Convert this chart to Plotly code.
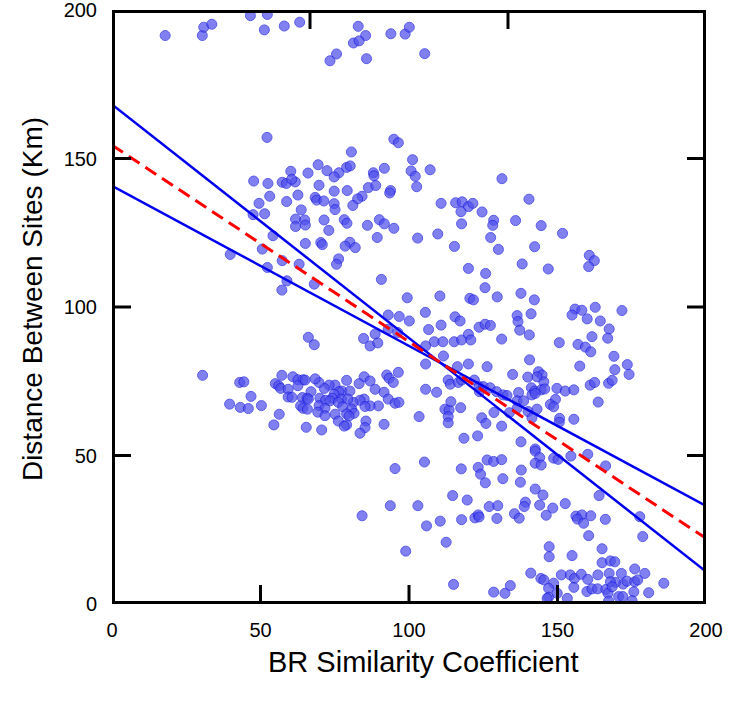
import plotly.graph_objects as go

# (BR similarity coefficient, distance between sites in km), grouped by region of the chart
pts_top = [(17.9,191.4),(30.4,191.4),(30.9,194.2),(33.6,195.2),(46.6,198.1),(52.3,198.5),(51.3,193.3),(58,194.6),(63.2,195.9),(52.2,157.1),
    (82.9,194.5),(85.4,191.4),(81.3,188.9),(83.2,189.6),(75.6,185.2),(73.4,182.9),(85.7,183.6),(93.9,192),(98.7,191.9),(100.1,194.2),(105.3,185.3),(94.9,156.5),(96.4,155.3),(80.6,152.2)]
pts_upper_left = [(47.7,142.4),(52.5,141.6),(57.3,142),(58.7,141.6),(61.7,142.1),(60.2,145.7),(60.5,143),(66,145.1),(53.1,137.3),(49.5,134.9),(58.8,135.5),(62.6,137.7),(51.4,131.4),(47.5,131.1),(63.7,132.7),(61.8,129.6),(64.9,129.3),(61.8,127.1),(65.1,127.6),(54.2,124),(50.6,119.5),(65.1,121.4),(57.3,115.6),(63,114.4),(39.8,117.7),(52.3,113.3),(58.9,108.8),(57.2,105.7)]
pts_upper_mid = [(69.4,147.9),(72.4,145.9),(76.4,145.2),(74.8,143.8),(79,147),(80.2,147.5),(88,145.2),(88.2,144.2),(91.7,146.7),(101.2,149.6),(100.7,145.8),(102.1,144),(107.1,146.2),(102.6,140.5),(131.3,143.2),(69.7,141),(74.8,139),(79.2,139.2),(86.3,140.2),(88.8,140.9),(93.8,139.2),(93.5,138.4),(68.4,136.9),(68.9,136),(71.3,135.7),(84.2,137.3),(82.7,136.4),(81.1,134.2),(74.8,134.8),(75.1,132.8),(71.4,129.3),(78.2,129.4),(79.1,128.2),(73,125.8),(86,127.5),(90,129.4),(91.7,128),(94.9,126.5),(89.3,123.4),(102.9,123.2),(109.7,124.6),(115.3,120.4),(110.8,134.9),(115.7,135.1),(117.9,135.4),(120,133.8),(121.5,134.9),(117.5,132.1),(124.6,132),(117.7,128),(128.5,129.2),(128.2,127.5),(127.5,123.4),(130.1,119.4),(70.3,121.7),(70.8,121),(80.1,121.8),(78.5,120.5),(81.9,120),(76.3,116.2),(75.6,114.4),(90.7,109.3),(68.1,107.7),(120,113),(125.8,111.3),(125.6,106.5),(99.4,103.1),(110.4,103.7),(120.5,102.9),(121.7,102.4),(129.7,103.4)]
pts_upper_right = [(140.4,136.3),(135.9,129.1),(144.5,127.4),(151.7,124.8),(142.3,120.3),(138.1,114.5),(146.9,112.8),(160.7,117.4),(162.4,115.6),(160.5,113.6),(137.7,104.6),(142.2,102.4)]
pts_mid_left = [(66.1,89.8),(30.5,77),(43,74.6),(44.4,74.8),(46.8,69.9),(39.6,67.3),(43.2,66.2),(45.9,65.8),(50.3,66.8),(56.3,63.9),(54.5,60.3),(57.2,77),(55,74.2),(56.1,73.5),(56.8,72.6),(60.9,76.5),(62.6,75.5),(64.3,75.5),(62.6,73.5),(59.3,72.3),(59.3,69.7),(60.6,69.6),(64.1,69.5),(65.7,69.3),(63.5,66.7),(64.3,65.9),(65.8,65.6),(65.4,59.5)]
pts_mid_center = [(105.5,98.2),(96.7,96.8),(100.1,95.3),(93,97.3),(115.5,96.7),(117.2,95.3),(110.8,93.9),(123.6,93.2),(125.6,94.2),(127.4,93.8),(93,92.5),(96.2,91.4),(106.6,92.4),(88.6,90.9),(84.7,89.4),(86.9,86.9),(89.5,87.9),(68.1,87.3),(108.5,88.3),(111.4,88.3),(115.2,88.3),(117.7,88.9),(120,90.8),(120.8,88.9),(131.2,89.2),(105.6,86.9),(111.6,83.5),(105.6,80.8),(116.3,79.9),(120,80.8),(126.3,79.9),(113.2,75.4),(113.9,74),(116.6,74.6),(117.7,75.4),(122,75.4),(123.6,73.2),(125,73.2),(127.3,72.8),(129.5,71.5),(123.7,71.5),(131.7,70.4),(105.6,72.3),(109.3,71.3),(96.4,78),(92.5,77.1),(93.3,76),(94.7,74.6),(84.9,76.5),(86.9,75.1),(83.2,74.2),(88.6,72.3),(91.6,71.3),(93,69),(95.3,67.6),(96.6,67.9),(89.7,66.7),(86.9,66.7),(84.9,69),(83.5,68.6),(85.2,66.5),(81.2,67.9),(79,75.3),(77.4,71.7),(80.1,71.7),(75.1,73.7),(76.4,71.5),(73.1,73.7),(71.5,72.6),(69.7,74.6),(68.4,75.8),(67,71.5),(65,75.4),(74.8,70.6),(74.2,69.3),(77.3,69),(79.4,69),(70,69.3),(71.9,68.6),(73.4,68.4),(66.1,69),(69.7,66.8),(71.7,65.9),(76.2,67.9),(77.7,66.4),(69.3,64.6),(71.7,63.4),(75.1,63.9),(80.7,65.6),(81.5,64.2),(79,64),(79.8,63.3),(76.2,61.6),(79,60.3),(78.2,59.9),(85.5,61.6),(85.2,59.4),(83.5,57.5),(91.6,60.5),(70.6,58.6),(103.4,63.1),(112.1,65.6),(113.5,65.3),(114.1,68.1),(117.4,66.1),(113.2,63.1),(113.2,61),(118.5,55.8),(123.1,56.6),(124.5,62.7),(125.9,60.8),(128.6,64.5),(131.2,59.9)]
pts_mid_right = [(136.4,97.1),(136.7,95.1),(137.3,92.2),(141.1,97.7),(140.5,90.6),(155.9,99.3),(158.2,98.9),(154.9,97.3),(162.7,99.9),(160,96),(164.4,95.3),(171.7,98.8),(167.4,92.6),(161.6,90),(166.9,89.5),(150.6,88),(156.9,87.4),(159.4,86.5),(161.2,84.9),(169,83.4),(173.5,80.6),(174.1,77.3),(169.3,78.9),(157.5,80.1),(140.6,82.2),(134.9,77.3),(140,76.4),(143.6,78.2),(144.8,77.1),(145.4,74.8),(143.1,76.5),(141.2,72.8),(142.3,71.7),(144.5,72.1),(145.7,72.4),(141.4,70.4),(142.5,70.9),(149.8,72.6),(152.6,71.7),(155.5,72.1),(161,73.7),(162.5,74.6),(167.2,74.3),(168.4,75.3),(163.7,68),(149.3,68.9),(147.6,67.2),(148.7,66.4),(136.9,71.2),(133,70.2),(136.4,68.4),(138.6,68.4),(136.4,65.9),(140.1,64.8),(143.1,65.6),(133.8,64.4),(141.4,62.7),(150.7,62.5),(150.6,61.2),(155.5,62.2),(137.7,54.6),(142.5,52.2)]
pts_low_center = [(95.3,45.6),(105.2,47.8),(117.6,45.5),(123.3,46),(124.1,43.7),(125.7,40.8),(126.3,48.5),(128.5,48),(131.2,48.6),(131.6,42.2),(114.7,36.5),(119.6,35),(93.7,33.1),(103,33.1),(84.2,29.7),(105.9,26.3),(110.5,27.9),(117.7,28.4),(122.2,29),(123.3,30),(123.6,29.3),(127,32.8),(129.9,33.1),(129.6,28.8),(112.5,20.8),(98.9,17.8),(115,6.6),(128.5,4),(132.3,3.6)]
pts_low_right = [(142.5,51.5),(144,49.3),(142.5,47.4),(144.5,46.8),(148.7,49.1),(150.2,48.7),(154.5,49.8),(160.2,50.4),(137.8,45.1),(137.5,41),(166.2,46.5),(142.5,38.7),(145.1,36.7),(139.2,34.3),(138.8,32.8),(144,33.3),(148.4,32.3),(152.6,33.8),(164,36.5),(135.5,30.4),(137.1,28.9),(146.2,29.9),(156.2,29.6),(158.2,30),(156.7,28.6),(158.8,27.2),(161.2,29.7),(166.1,28.5),(177.7,29.4),(160.5,23),(178.7,22.7),(147.2,19.3),(147.2,15.9),(154.9,16.3),(165,18.6),(165,13.9),(167.8,14.5),(169.3,14.2),(141,10.4),(144.4,8.6),(145.4,8.1),(148.7,7),(151.3,9.8),(154.3,9.8),(155.7,8.6),(158,10),(160.2,8.3),(163.6,9.8),(167.4,10.3),(171.5,10.3),(176,11.8),(179.4,10.3),(185.8,7),(147,5.3),(147,2.3),(149.9,3.6),(146.5,1.9),(153.3,1.9),(155.5,5.6),(159.9,4.2),(161.6,5.1),(163.5,5.1),(166.3,4.9),(167,3.6),(167.2,1),(170.6,2.5),(172,2.5),(172.1,6.7),(169.5,7.3),(173.4,7.7),(176,7.5),(177,8.1),(175.7,4.1),(175.1,1.1),(180.7,3.8),(134.1,6.2),(167.8,7.5),(168.4,5.8)]

groups = [pts_top, pts_upper_left, pts_upper_mid, pts_upper_right, pts_mid_left,
          pts_mid_center, pts_mid_right, pts_low_center, pts_low_right]
sim_coef = [p[0] for g in groups for p in g]
distance_km = [p[1] for g in groups for p in g]

# regression line and bounds (end points at x = 0 and x = 200)
line_x = [0, 200]
fit_y = [154.5, 22.1]
upper_y = [168.2, 10.9]
lower_y = [140.8, 33.0]

# axes
x_range = [0, 200]
y_range = [0, 200]
tick_vals = [0, 50, 100, 150, 200]
tick_text = ["0", "50", "100", "150", "200"]
top_ticks = [66.67, 133.33]
right_ticks = [50, 100, 150]
tick_len = 6.4  # inward tick length, in axis units (about 19 px)

FONT = "Liberation Sans, Arial, sans-serif"

fig = go.Figure()
fig.add_trace(go.Scatter(
    x=sim_coef, y=distance_km, mode="markers",
    marker=dict(size=10, color="rgb(80,80,236)", opacity=0.72,
                line=dict(color="rgb(30,30,225)", width=1)),
    showlegend=False))
fig.add_trace(go.Scatter(x=line_x, y=upper_y, mode="lines",
                         line=dict(color="#0000ee", width=2.5), showlegend=False))
fig.add_trace(go.Scatter(x=line_x, y=lower_y, mode="lines",
                         line=dict(color="#0000ee", width=2.5), showlegend=False))
fig.add_trace(go.Scatter(x=line_x, y=fit_y, mode="lines",
                         line=dict(color="#ff0000", width=3, dash="13px,7px"), showlegend=False))

# plot frame (drawn as a trace; half of its width is clipped at the plot edge)
x0, x1 = x_range
y0, y1 = y_range
fig.add_trace(go.Scatter(x=[x0, x1, x1, x0, x0], y=[y0, y0, y1, y1, y0], mode="lines",
                         line=dict(color="black", width=6), showlegend=False, hoverinfo="skip"))

# inward tick marks built from the tick value lists
tx, ty = [], []
for v in tick_vals:
    tx += [v, v, None]; ty += [y0, y0 + tick_len, None]
    tx += [x0, x0 + tick_len, None]; ty += [v, v, None]
for v in top_ticks:
    tx += [v, v, None]; ty += [y1, y1 - tick_len, None]
for v in right_ticks:
    tx += [x1, x1 - tick_len, None]; ty += [v, v, None]
fig.add_trace(go.Scatter(x=tx, y=ty, mode="lines", line=dict(color="black", width=3),
                         showlegend=False, hoverinfo="skip", connectgaps=False))

fig.update_layout(
    template="simple_white",
    width=730, height=706,
    margin=dict(l=112, r=24, t=10, b=102),
    paper_bgcolor="white", plot_bgcolor="white",
    font=dict(family=FONT, color="black"),
    xaxis=dict(range=x_range, tickvals=tick_vals, ticktext=tick_text, automargin=False,
               ticks="", showline=False, showgrid=False, zeroline=False,
               tickfont=dict(size=20), ticklabelstandoff=12, ticklabeloverflow="allow"),
    yaxis=dict(range=y_range, tickvals=tick_vals, ticktext=tick_text, automargin=False,
               ticks="", showline=False, showgrid=False, zeroline=False,
               tickfont=dict(size=20), ticklabelstandoff=14, ticklabeloverflow="allow"),
    annotations=[
        dict(text="BR Similarity Coefficient", xref="paper", yref="paper",
             x=0.525, y=-0.097, xanchor="center", yanchor="middle",
             showarrow=False, font=dict(size=29)),
        dict(text="Distance Between Sites (Km)", xref="paper", yref="paper",
             x=-0.135, y=0.513, xanchor="center", yanchor="middle", textangle=-90,
             showarrow=False, font=dict(size=28)),
    ],
)

fig.write_html("out.html")
